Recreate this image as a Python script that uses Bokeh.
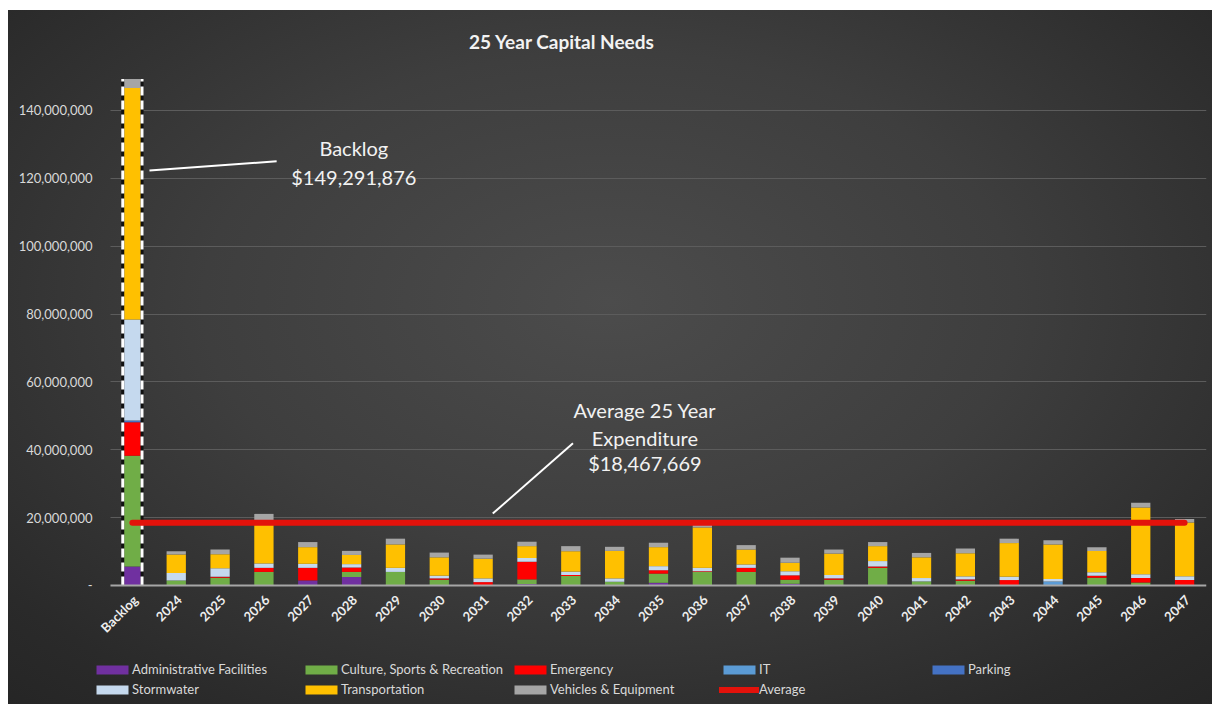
import math
from bokeh.plotting import figure
from bokeh.models import (Range1d, FixedTicker, NumeralTickFormatter,
                          Legend, LegendItem, ColumnDataSource)
from bokeh.embed import file_html
from bokeh.resources import INLINE
from bokeh.core.properties import value

# ---------------- data (values in millions of dollars) ----------------
categories = ["Backlog", "2024", "2025", "2026", "2027", "2028", "2029", "2030", "2031",
              "2032", "2033", "2034", "2035", "2036", "2037", "2038", "2039", "2040",
              "2041", "2042", "2043", "2044", "2045", "2046", "2047"]

admin     = [5.6, 0, 0, 0, 1.5, 2.5, 0, 0, 0, 0.4, 0, 0, 0.8, 0, 0, 0.5, 0, 0, 0, 0, 0, 0, 0, 0, 0]
culture   = [32.6, 1.5, 2.3, 4.0, 0, 1.5, 4.0, 1.7, 0, 1.4, 2.8, 1.1, 2.7, 4.0, 4.0, 1.2, 1.7, 5.2, 1.2, 1.4, 0, 0, 2.3, 0.9, 0]
emergency = [9.9, 0, 0.3, 1.2, 3.7, 1.3, 0, 0.4, 1.0, 5.2, 0.3, 0, 1.0, 0.2, 1.2, 1.3, 0.4, 0.4, 0, 0.4, 1.6, 0, 0.6, 1.3, 1.6]
it        = [0, 0, 0, 0, 0, 0, 0, 0, 0, 0, 0, 0, 0, 0, 0, 0, 0, 0, 0, 0, 0, 1.2, 0, 0, 0]
parking   = [0.5, 0, 0, 0, 0, 0, 0, 0, 0, 0, 0, 0, 0, 0, 0, 0, 0, 0, 0, 0, 0, 0, 0, 0, 0]
storm     = [29.8, 2.2, 2.5, 1.3, 1.2, 1.0, 1.2, 0.8, 1.1, 1.1, 1.0, 1.0, 1.2, 1.0, 1.0, 1.2, 1.0, 1.6, 1.0, 0.9, 1.0, 0.7, 1.0, 1.1, 1.1]
transport = [68.2, 5.4, 4.1, 12.8, 4.9, 2.7, 6.9, 5.4, 5.8, 3.5, 6.0, 8.1, 5.6, 11.9, 4.4, 2.5, 6.3, 4.4, 6.1, 6.8, 9.9, 10.2, 6.3, 19.7, 15.9]
vehicles  = [2.7, 1.0, 1.4, 1.8, 1.5, 1.2, 1.7, 1.4, 1.2, 1.3, 1.5, 1.2, 1.3, 0.9, 1.3, 1.5, 1.2, 1.2, 1.3, 1.4, 1.3, 1.2, 1.1, 1.4, 1.0]

series_names = ["Administrative Facilities", "Culture, Sports & Recreation", "Emergency", "IT",
                "Parking", "Stormwater", "Transportation", "Vehicles & Equipment"]
series_values = [admin, culture, emergency, it, parking, storm, transport, vehicles]
series_colors = ["#7030a0", "#70ad47", "#ff0000", "#5b9bd5", "#4472c4", "#c5d9ee", "#ffc000", "#a5a5a5"]

y_ticks = [0, 20e6, 40e6, 60e6, 80e6, 100e6, 120e6, 140e6]

chart_title = "25 Year Capital Needs"
average_value = 18467669
backlog_total = 149291876

# ---------------- build ----------------
SCALE = 1e6
N = len(categories)
xs = [i + 0.5 for i in range(N)]          # slot centres on a linear scale
keys = ["s%d" % i for i in range(len(series_names))]
data = {"x": xs, "cat": categories}
for k, arr in zip(keys, series_values):
    data[k] = [v * SCALE for v in arr]
src = ColumnDataSource(data)

FONT = "Lato"
AVG_COLOR = "#e3120b"
TXT = "#f2f2f2"
Y_TOP = 169.45e6      # room above the bars for the title
Y_BOTTOM = -35.07e6   # room under the zero line for the category labels and legend
X_START = -0.41       # room left of the first slot for its slanted label

p = figure(x_range=Range1d(X_START, N), y_range=Range1d(Y_BOTTOM, Y_TOP),
           width=1204, height=694, output_backend="svg", toolbar_location=None,
           x_axis_location=None,
           min_border_left=84, min_border_right=6, min_border_top=0, min_border_bottom=0,
           background_fill_color=None, border_fill_color=None)
p.outline_line_color = None
p.margin = (10, 0, 0, 8)
p.styles = {"background": "radial-gradient(ellipse 75% 80% at 50% 42%, #4c4c4c 0%, #3e3e3e 45%, #2a2a2a 85%, #252525 100%)"}

# horizontal grid lines spanning only the slot area
grid = p.ygrid[0]
grid.ticker = FixedTicker(ticks=y_ticks[1:])
grid.grid_line_color = "#5c5c5c"
if "cross_bounds" in grid.properties():
    grid.cross_bounds = (0, N)
else:
    grid.grid_line_color = None
    gl = y_ticks[1:]
    p.segment(x0=[0] * len(gl), y0=gl, x1=[N] * len(gl), y1=gl, line_color="#5c5c5c", line_width=1)
p.xgrid.grid_line_color = None

BAR_W = 0.44
bars = p.vbar_stack(keys, x="x", width=BAR_W, color=series_colors, source=src, line_color=None)

# dashed outline on the backlog bar sides
bx = [xs[0] - BAR_W / 2, xs[0] + BAR_W / 2]
p.segment(x0=bx, y0=[0, 0], x1=bx, y1=[backlog_total, backlog_total], line_color="#111111", line_width=3)
p.segment(x0=bx, y0=[0, 0], x1=bx, y1=[backlog_total, backlog_total], line_color="white",
          line_width=3, line_dash="9 5")

# category axis line and labels
p.segment(x0=[0], y0=[0], x1=[N], y1=[0], line_color="#a6a6a6", line_width=2)
p.text(x="x", y=0, text="cat", source=src, angle=math.pi / 4,
       text_align="right", text_baseline="middle", x_offset=3, y_offset=12,
       text_color="#eeeeee", text_font=value(FONT), text_font_size="13px", text_font_style="bold")

# average line
avg_r = p.line(x=xs, y=[average_value] * N, line_color=AVG_COLOR, line_width=6, line_cap="round")

# title
p.text(x=[10.30], y=[160.3e6], text=[chart_title], text_align="center", text_baseline="middle",
       text_color=TXT, text_font=value(FONT), text_font_size="19px", text_font_style="bold")

# annotations
p.segment(x0=[0.89], y0=[122.3e6], x1=[3.79], y1=[125.0e6], line_color="white", line_width=2)
p.text(x=[5.55, 5.55], y=[128.8e6, 120.5e6], text=["Backlog", "$%s" % format(backlog_total, ",")],
       text_align="center", text_baseline="middle", text_color=TXT,
       text_font=value(FONT), text_font_size="20px")
p.segment(x0=[8.72], y0=[21.2e6], x1=[10.55], y1=[41.9e6], line_color="white", line_width=2)
p.text(x=[12.19, 12.19, 12.19], y=[51.6e6, 43.6e6, 36.0e6],
       text=["Average 25 Year", "Expenditure", "$%s" % format(average_value, ",")],
       text_align="center", text_baseline="middle", text_color=TXT,
       text_font=value(FONT), text_font_size="20px")

# y axis
p.yaxis.ticker = FixedTicker(ticks=y_ticks)
p.yaxis.formatter = NumeralTickFormatter(format="0,0")
p.yaxis.major_label_overrides = {0: "-"}
p.yaxis.axis_line_color = None
p.yaxis.major_tick_line_color = None
p.yaxis.minor_tick_line_color = None
p.yaxis.major_tick_out = 0
p.yaxis.major_label_text_font = FONT
p.yaxis.major_label_text_font_size = "13px"
p.yaxis.major_label_text_color = "#d9d9d9"
p.yaxis.major_label_standoff = 0

# legend
items = [LegendItem(label=n, renderers=[r]) for n, r in zip(series_names, bars)]
items.append(LegendItem(label="Average", renderers=[avg_r]))
legend = Legend(items=items, location=(0, 7), orientation="horizontal", ncols=5,
                glyph_width=40, glyph_height=11, label_standoff=0, label_width=165,
                label_height=16, spacing=4, padding=0, margin=0,
                background_fill_alpha=0, border_line_color=None,
                label_text_font=FONT, label_text_font_size="13px", label_text_color="#d9d9d9")
p.add_layout(legend, "center")

open("out.html", "w").write(file_html(p, INLINE))
